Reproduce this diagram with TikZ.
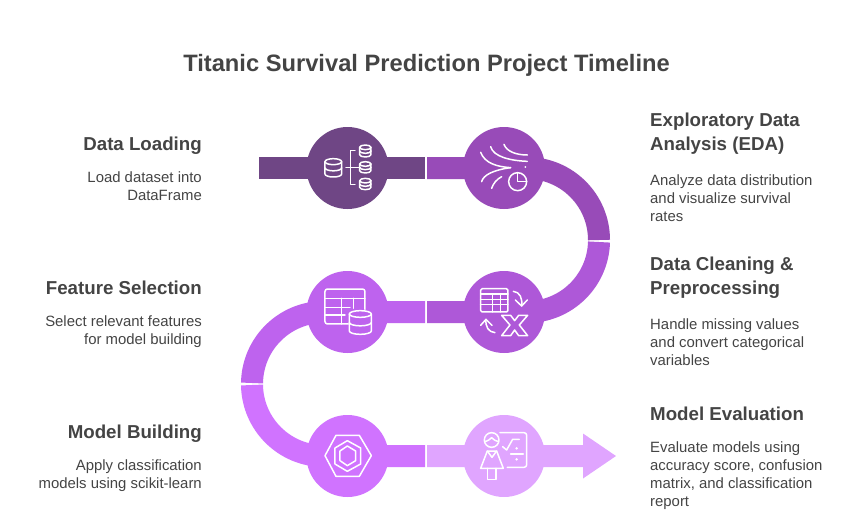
\documentclass[tikz,border=0pt]{standalone}
\usepackage{fontspec}
\setmainfont{Liberation Sans}
\usetikzlibrary{calc}
\definecolor{cA}{HTML}{6F4685}
\definecolor{cB}{HTML}{984BB8}
\definecolor{cC}{HTML}{AE58D8}
\definecolor{cD}{HTML}{BE63EE}
\definecolor{cE}{HTML}{D073FF}
\definecolor{cF}{HTML}{E0A5FF}
\definecolor{ink}{HTML}{444444}
\tikzset{
  stage/.style={circle,minimum size=82pt,inner sep=0pt,fill=#1},
  band/.style={line width=22pt,draw=#1},
  ico/.style={draw=white,line width=1.5pt,line join=round,line cap=round},
  head/.style={anchor=north,inner sep=0pt,text=ink,font=\fontsize{18.7}{24}\selectfont\bfseries,align=#1},
  desc/.style={anchor=north,inner sep=0pt,text=ink,font=\fontsize{14.9}{18}\selectfont,align=#1},
  zoomed/.style={shift={(#1)},x=0.3333pt,y=-0.3333pt}
}
\newcommand{\cyl}[5]{% cx top bottom rx ry
  \draw[ico] (#1-#4,#2) arc[start angle=180,end angle=-180,x radius=#4,y radius=#5];
  \draw[ico] (#1-#4,#2) -- (#1-#4,#3) arc[start angle=180,end angle=0,x radius=#4,y radius=#5] -- (#1+#4,#2);
  \draw[ico] (#1-#4,{(#2+#3)/2}) arc[start angle=180,end angle=0,x radius=#4,y radius=#5];
}
\begin{document}
\begin{tikzpicture}[x=1pt,y=-1pt]
\useasboundingbox (0,0) rectangle (864,520);
\node[inner sep=0pt,text=ink,font=\fontsize{23.7}{30}\selectfont\bfseries] (title) at (426.5,65) {Titanic Survival Prediction Project Timeline};

% stage anchors
\coordinate (start) at (259,168);
\coordinate (gapA) at (425,168);
\coordinate (gapB) at (427,168);
\coordinate (n1) at (347.5,168);
\coordinate (n2) at (504,168);
\coordinate (n3) at (504,312);
\coordinate (n4) at (347.5,312);
\coordinate (n5) at (347.5,456);
\coordinate (n6) at (504,456);

% bands
\draw[band=cA] (start) -- (gapA);
\draw[band=cB] (gapB) -- (527,168) arc[start angle=-90,end angle=0,radius=72];
\draw[band=cC] (599,242) arc[start angle=1.6,end angle=90,radius=72] -- (427,312);
\draw[band=cD] (425,312) -- (324,312) arc[start angle=-90,end angle=-179.2,radius=72];
\draw[band=cE] (252,385) arc[start angle=179.2,end angle=90,radius=72] -- (425,456);
\fill[cF] (427,445) -- (583,445) -- (583,433.5) -- (616,456) -- (583,478.5) -- (583,467) -- (427,467) -- cycle;

\node[stage=cA] (s1) at (n1) {};
\node[stage=cB] (s2) at (n2) {};
\node[stage=cC] (s3) at (n3) {};
\node[stage=cD] (s4) at (n4) {};
\node[stage=cE] (s5) at (n5) {};
\node[stage=cF] (s6) at (n6) {};

% icon 1
\begin{scope}[zoomed={250,120}]
\cyl{250}{125}{162}{25}{9}
\cyl{346}{82}{104}{17}{7}
\cyl{346}{132}{152}{17}{7}
\cyl{346}{182}{202}{17}{7}
\draw[ico] (315,92) -- (302,92) -- (302,193) -- (315,193);
\draw[ico] (288,143) -- (328,143);
% icon 2
\draw[ico] (692,97) .. controls (705,130) and (740,140) .. (782,143);
\draw[ico] (695,185) .. controls (700,165) and (730,150) .. (782,143);
\draw[ico] (725,205) .. controls (730,190) and (740,178) .. (755,170);
\draw[ico] (722,80) .. controls (730,110) and (780,122) .. (832,124);
\draw[ico] (762,73) .. controls (770,95) and (800,105) .. (832,105);
\draw[ico] (803,185) circle[radius=27];
\draw[ico] (803,160) -- (803,185) -- (830,185);
\fill[white] (826,141) circle[radius=3];
\end{scope}

% icon 3 and 4
\begin{scope}[zoomed={230,230}]
\draw[ico,rounded corners=1.5pt] (752,176) rectangle (834,246);
\draw[ico] (752,192) -- (834,192) (752,208) -- (834,208) (752,224) -- (834,224);
\draw[ico] (787,192) -- (787,246) (812,192) -- (812,246);
\draw[ico] (850,184) .. controls (870,186) and (878,205) .. (875,228);
\draw[ico] (856,210) -- (875,228) -- (892,210);
\draw[ico] (795,308) .. controls (775,306) and (766,290) .. (768,268);
\draw[ico] (752,286) -- (768,268) -- (786,286);
\draw[ico] (815,256) -- (842,256) -- (854,272) -- (866,256) -- (893,256) -- (868,285) -- (893,317) -- (866,317) -- (854,300) -- (842,317) -- (815,317) -- (840,285) -- cycle;
% icon 4
\draw[ico,rounded corners=2.5pt] (355,282) -- (285,282) -- (285,177) -- (405,177) -- (405,238);
\draw[ico] (285,205) -- (405,205) (285,232) -- (360,232) (285,255) -- (345,255);
\draw[ico] (335,205) -- (335,282) (370,205) -- (370,235);
\cyl{391}{252}{303}{33}{10}
\end{scope}

% icon 5 and 6
\begin{scope}[zoomed={230,370}]
\draw[ico] (285,257) -- (318,196) -- (388,196) -- (424,257) -- (388,319) -- (318,319) -- cycle;
\draw[ico] (352,212) -- (392,234) -- (392,282) -- (352,304) -- (315,282) -- (315,234) -- cycle;
\draw[ico] (352,228) -- (377,243) -- (377,272) -- (352,287) -- (330,272) -- (330,243) -- cycle;
\draw[ico] (785,210) circle[radius=22];
\draw[ico] (764,215) .. controls (775,212) and (780,208) .. (785,203) .. controls (790,208) and (795,212) .. (806,215);
\draw[ico] (772,243) -- (752,295) -- (820,295) -- (800,243) -- cycle;
\draw[ico] (772,243) -- (786,262) -- (800,243);
\draw[ico] (772,295) -- (772,328) -- (798,328) -- (798,295);
\draw[ico,rounded corners=2.5pt] (810,188) -- (890,188) -- (890,292) -- (832,292);
\draw[ico] (818,230) -- (830,240) -- (848,208) -- (868,208);
\draw[ico] (842,252) -- (880,252);
\fill[white] (860,235) circle[radius=4] (860,268) circle[radius=4];
\end{scope}

% labels, left
\node[head=right,anchor=north east] (t1) at (202,133.5) {\strut Data Loading};
\node[desc=right,anchor=north east] (d1) at (202,170) {\strut Load dataset into\\\strut DataFrame};
\node[head=right,anchor=north east] (t4) at (202,277.5) {\strut Feature Selection};
\node[desc=right,anchor=north east] (d4) at (202,314) {\strut Select relevant features\\\strut for model building};
\node[head=right,anchor=north east] (t5) at (202,421.5) {\strut Model Building};
\node[desc=right,anchor=north east] (d5) at (202,458) {\strut Apply classification\\\strut models using scikit-learn};
% labels, right
\node[head=left,anchor=north west] (t2) at (650,109.5) {\strut Exploratory Data\\\strut Analysis (EDA)};
\node[desc=left,anchor=north west] (d2) at (650,173) {\strut Analyze data distribution\\\strut and visualize survival\\\strut rates};
\node[head=left,anchor=north west] (t3) at (650,253.5) {\strut Data Cleaning \&\\\strut Preprocessing};
\node[desc=left,anchor=north west] (d3) at (650,317) {\strut Handle missing values\\\strut and convert categorical\\\strut variables};
\node[head=left,anchor=north west] (t6) at (650,403.5) {\strut Model Evaluation};
\node[desc=left,anchor=north west] (d6) at (650,440) {\strut Evaluate models using\\\strut accuracy score, confusion\\\strut matrix, and classification\\\strut report};
\end{tikzpicture}
\end{document}
